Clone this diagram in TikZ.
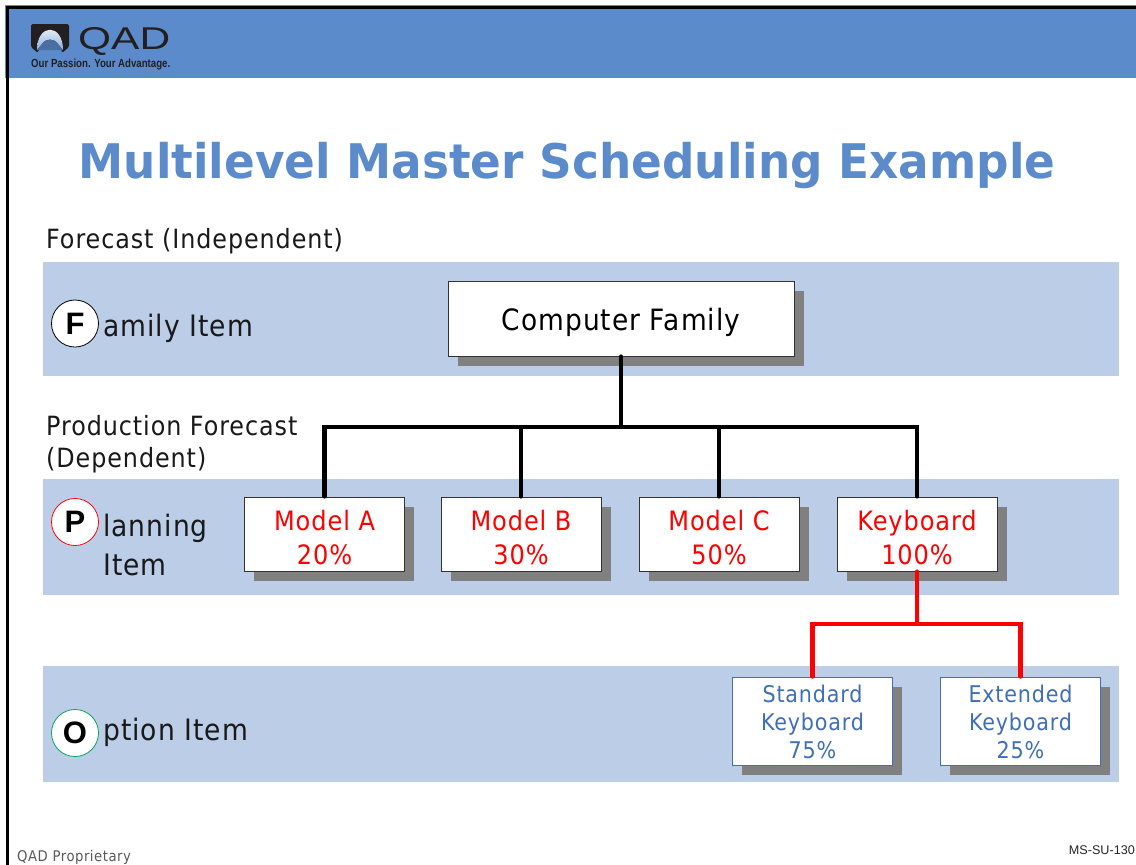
\documentclass[tikz,border=0pt]{standalone}
\usepackage{fontspec}
\setmainfont{DejaVu Sans}
\newfontfamily\bodyf[FakeStretch=0.90,LetterSpace=3.5]{DejaVu Sans}
\newfontfamily\titlef[FakeStretch=0.95]{DejaVu Sans Bold}
\newfontfamily\arialf{Liberation Sans}
\usetikzlibrary{shadows}
\definecolor{hdr}{HTML}{5B8BCB}
\definecolor{band}{HTML}{BBCDE7}
\definecolor{ttl}{HTML}{5B8BCB}
\definecolor{optblue}{HTML}{3F6FB5}
\definecolor{shade}{HTML}{808080}
\definecolor{logo}{HTML}{231F20}
\newcommand{\fs}[2][0]{\fontsize{#2}{\ifdim#1pt=0pt #2\else #1\fi}\selectfont}
\newcommand{\planstrut}{\rule{0pt}{27pt}}
\newcommand{\optstrut}{\rule{0pt}{20pt}}
\tikzset{
  x=1pt,y=-1pt,
  bandrect/.style={fill=band,draw=none},
  boxbase/.style={draw,fill=white,align=center,inner sep=0pt,line width=1pt,
    drop shadow={shadow xshift=9.5pt,shadow yshift=-9.5pt,fill=shade,opacity=1}},
  famprod/.style={boxbase,draw=black!80,minimum width=346pt,minimum height=75pt,font=\bodyf\fs{29.4},text height=30pt,text depth=6pt},
  planbox/.style={boxbase,draw=black!80,minimum width=160pt,minimum height=74pt,text=red,font=\bodyf\fs[34]{26.7}},
  optbox/.style={boxbase,draw=optblue,minimum width=160pt,minimum height=88pt,text=optblue,font=\bodyf\fs[28]{23}},
  lbl/.style={anchor=base west,inner sep=0pt,font=\bodyf\fs{29.5},text=black!90},
  lblsm/.style={anchor=base west,inner sep=0pt,font=\bodyf\fs{26.5},text=black!90},
  circ/.style={circle,fill=white,draw=#1,line width=0.8pt,minimum size=47pt,inner sep=0pt,font=\arialf\bfseries\fs{31},text=black},
  blackline/.style={line width=4.2pt,draw=black,line cap=round},
  redline/.style={line width=4.2pt,draw=red,line cap=round},
}
\begin{document}
\begin{tikzpicture}
\useasboundingbox (0,0) rectangle (1136,865);
\fill[white] (0,0) rectangle (1136,865);
% header
\fill[hdr] (5,5) rectangle (1136,78);
\fill[black] (6,6) rectangle (1136,8.5);
\fill[black] (6,6) rectangle (9,865);
% logo
\fill[logo,rounded corners=1.5pt] (31,24) -- (69,24) -- (69,47) -- (62,53) -- (61,48) -- (39,48) -- (38,53) -- (31,47) -- cycle;
\shade[top color=white,bottom color=hdr!70!white] (37,50) .. controls (37,23) and (63,23) .. (63,50) -- (58,44) .. controls (54,38) and (46,38) .. (42,44) -- cycle;
\fill[hdr!80!black] (42,44) .. controls (46,38) and (54,38) .. (58,44) -- (63,50) -- (37,50) -- cycle;
\node[anchor=base west,inner sep=0pt,text=logo] (logoq) at (78,49) {\resizebox{92pt}{22pt}{\arialf QAD}};
\node[anchor=base west,inner sep=0pt,text=logo] (logot) at (31,67) {\resizebox{139pt}{8.5pt}{\arialf\bfseries Our Passion. Your Advantage.}};
% title
\node[anchor=base,inner sep=0pt,text=ttl,font=\titlef\fs{47.7}] (title) at (567,178) {Multilevel Master Scheduling Example};
% bands
\fill[bandrect] (43,262) rectangle (1119,376);
\fill[bandrect] (43,479) rectangle (1119,595);
\fill[bandrect] (43,666) rectangle (1119,782);
% labels
\node[lblsm] (fc) at (46,248) {Forecast (Independent)};
\node[lblsm] (pf) at (46,435) {Production Forecast};
\node[lblsm] (dep) at (46,467) {(Dependent)};
\node[lbl] (fam) at (103,336) {amily Item};
\node[lbl] (pla) at (103,536) {lanning};
\node[lbl] (ite) at (103,575) {Item};
\node[lbl] (opt) at (103,740) {ption Item};
\node[circ=black] (cf1) at (75,323.5) {F};
\node[circ=red] (cp1) at (75,522) {P};
\node[circ=teal!70!green] (co1) at (75,733) {O};
% coordinates for buses
\coordinate (bus) at (621,427);
\coordinate (rbus) at (917,624);
% boxes
\node[famprod] (cf) at (621,318.5) {Computer Family};
\node[planbox] (ma) at (324.5,534) {\planstrut Model A\\20\%};
\node[planbox] (mb) at (521,534) {\planstrut Model B\\30\%};
\node[planbox] (mc) at (719,534) {\planstrut Model C\\50\%};
\node[planbox] (kb) at (917,534) {\planstrut Keyboard\\100\%};
\node[optbox] (sk) at (812.5,721) {\optstrut Standard\\Keyboard\\75\%};
\node[optbox] (ek) at (1020.5,721) {\optstrut Extended\\Keyboard\\25\%};
% connectors
\draw[blackline] (cf.south) -- (bus);
\draw[blackline] (ma.north) -- (bus -| ma.north) -- (bus -| kb.north) -- (kb.north);
\draw[blackline] (mb.north) -- (bus -| mb.north);
\draw[blackline] (mc.north) -- (bus -| mc.north);
\draw[redline] (kb.south) -- (rbus);
\draw[redline] (sk.north) -- (rbus -| sk.north) -- (rbus -| ek.north) -- (ek.north);
% footer
\node[anchor=base west,inner sep=0pt,font=\bodyf\fs{14.7},text=black!65] (qp) at (17,861) {QAD Proprietary};
\node[anchor=base east,inner sep=0pt,font=\arialf\fs{12.6},text=black!85] (code) at (1135,854) {MS-SU-130};
\end{tikzpicture}
\end{document}
